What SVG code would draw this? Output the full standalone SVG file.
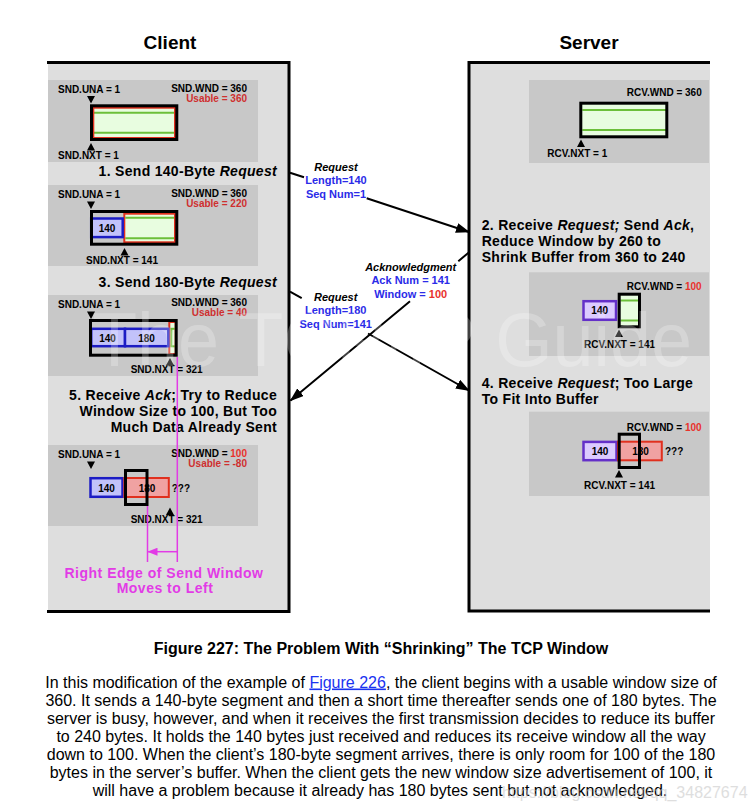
<svg xmlns="http://www.w3.org/2000/svg" width="755" height="812" viewBox="0 0 755 812">
<style>
text{font-family:"Liberation Sans",Arial,Helvetica,sans-serif;fill:#000}
.h{font-size:19px;font-weight:bold;text-anchor:middle}
.lb{font-size:10px;font-weight:bold}
.e{text-anchor:end}
.m{text-anchor:middle}
.st{font-size:14px;font-weight:bold;letter-spacing:0.3px}
.md{font-size:11px;font-weight:bold;text-anchor:middle}
.i{font-style:italic}
.blu{fill:#2b2be8}
.red{fill:#e8322c}
.ured{fill:#cf2f2f}
.mag{fill:#e23be6;font-size:14px;font-weight:bold;letter-spacing:0.5px;text-anchor:middle}
.panel{fill:#dedede}
.bd{stroke:#000;stroke-width:3;fill:none}
.gb{fill:#c8c8c8}
.win{fill:none;stroke:#000;stroke-width:3}
.lg{fill:#e8fde0}
.gl{stroke:#6cbf3a;stroke-width:2}
.rb{fill:none;stroke:#e0301e;stroke-width:2}
.bb{fill:#c2c2fa;stroke:#1c1cc4;stroke-width:2.5}
.pb{fill:#dccbff;stroke:#6430c8;stroke-width:2.5}
.rf{fill:#f0a2a2;stroke:#e0301e;stroke-width:2}
.conn{stroke:#000;stroke-width:2;fill:none}
.mline{stroke:#e23be6;stroke-width:1.5;fill:none}
.cap{font-size:16px;text-anchor:middle}
</style>
<defs>
<path id="dn" d="M-4,0 L4,0 L0,7.5 Z" fill="#000"/>
<path id="up" d="M-4,7.5 L4,7.5 L0,0 Z" fill="#000"/>
<marker id="ah" viewBox="0 0 14 10" refX="13" refY="5" markerWidth="14" markerHeight="10" markerUnits="userSpaceOnUse" orient="auto"><path d="M0,0 L14,5 L0,10 Z" fill="#000"/></marker>
<marker id="mh" viewBox="0 0 10 8" refX="9.5" refY="4" markerWidth="10" markerHeight="8" markerUnits="userSpaceOnUse" orient="auto"><path d="M0,0 L10,4 L0,8 Z" fill="#e23be6"/></marker>
</defs>
<rect width="755" height="812" fill="#fff"/>

<g id="client-panel">
<text class="h" x="170" y="49">Client</text>
<rect class="panel" x="48" y="62" width="241" height="549"/>
<path class="bd" d="M47,62.5 H289 V611.5 H47"/>
</g>

<g id="server-panel">
<text class="h" x="589" y="49">Server</text>
<rect class="panel" x="469" y="62" width="241" height="549"/>
<path class="bd" d="M710,62.5 H469 V611 H710"/>
</g>

<g id="client-state-1">
<rect class="gb" x="48" y="80" width="210" height="82"/>
<rect class="lg" x="92" y="106" width="84" height="33"/>
<line class="gl" x1="94" y1="112.7" x2="175" y2="112.7"/>
<line class="gl" x1="94" y1="132.7" x2="175" y2="132.7"/>
<rect class="rb" x="93.3" y="107.7" width="81.7" height="30.3"/>
<rect class="win" x="91.5" y="105.8" width="85.3" height="33.7"/>
<use href="#dn" x="91" y="96"/>
<use href="#up" x="91" y="143"/>
<text class="lb" x="58" y="93">SND.UNA = 1</text>
<text class="lb e" x="247" y="91.7">SND.WND = 360</text>
<text class="lb e ured" x="247" y="101.7">Usable = 360</text>
<text class="lb" x="58" y="159">SND.NXT = 1</text>
</g>

<g id="client-step-1">
<text class="st e" x="277" y="176">1. Send 140-Byte <tspan class="i">Request</tspan></text>
</g>

<g id="client-state-2">
<rect class="gb" x="48" y="185" width="210" height="81"/>
<rect class="lg" x="124.3" y="213.7" width="50.7" height="28.6"/>
<line class="gl" x1="125.3" y1="217.7" x2="174" y2="217.7"/>
<line class="gl" x1="125.3" y1="238.3" x2="174" y2="238.3"/>
<rect class="rb" x="124.3" y="213.7" width="50.7" height="28.6"/>
<rect class="bb" x="91.2" y="218.5" width="31.5" height="18.6"/>
<rect class="win" x="91.5" y="211.5" width="85.3" height="32.7"/>
<text class="lb m" x="107" y="231.5">140</text>
<use href="#dn" x="91" y="201.5"/>
<use href="#up" x="124.5" y="248"/>
<text class="lb" x="58" y="198">SND.UNA = 1</text>
<text class="lb e" x="247" y="196.7">SND.WND = 360</text>
<text class="lb e ured" x="247" y="206.7">Usable = 220</text>
<text class="lb" x="86" y="264">SND.NXT = 141</text>
</g>

<g id="client-step-3">
<text class="st e" x="277" y="287">3. Send 180-Byte <tspan class="i">Request</tspan></text>
</g>

<g id="client-state-3">
<rect class="gb" x="48" y="295" width="210" height="81"/>
<rect class="lg" x="169.3" y="322" width="6.4" height="32"/>
<line class="gl" x1="170.3" y1="328.8" x2="174.7" y2="328.8"/>
<line class="gl" x1="170.3" y1="346.3" x2="174.7" y2="346.3"/>
<line class="gl" x1="171.3" y1="328.8" x2="171.3" y2="346.3"/>
<rect class="rb" x="169.3" y="322" width="6.4" height="32"/>
<rect class="bb" x="91.2" y="328.8" width="33.8" height="17.4"/>
<rect class="bb" x="125" y="328.8" width="43.3" height="17.4"/>
<rect class="win" x="90.5" y="320.5" width="85.7" height="34.7"/>
<text class="lb m" x="107.5" y="341.5">140</text>
<text class="lb m" x="146.5" y="341.5">180</text>
<use href="#dn" x="91" y="311.5"/>
<use href="#up" x="170" y="358"/>
<text class="lb" x="58" y="308">SND.UNA = 1</text>
<text class="lb e" x="247" y="306">SND.WND = 360</text>
<text class="lb e ured" x="247" y="316">Usable = 40</text>
<text class="lb" x="130.7" y="373">SND.NXT = 321</text>
</g>

<g id="client-step-5">
<text class="st e" x="277" y="400">5. Receive <tspan class="i">Ack</tspan>; Try to Reduce</text>
<text class="st e" x="277" y="416">Window Size to 100, But Too</text>
<text class="st e" x="277" y="432">Much Data Already Sent</text>
</g>

<g id="client-state-5">
<rect class="gb" x="48" y="445" width="210" height="81"/>
<rect class="bb" x="90.5" y="478.2" width="32" height="18.6"/>
<rect class="rf" x="124.3" y="478" width="44.5" height="19"/>
<text class="lb m" x="106.5" y="491.5">140</text>
<text class="lb m" x="147" y="491.5">180</text>
<rect class="win" x="125.5" y="470.5" width="21.5" height="34"/>
<text class="lb" x="171.7" y="491.7">???</text>
<use href="#dn" x="91" y="461.5"/>
<use href="#up" x="170" y="507.5"/>
<text class="lb" x="58" y="458">SND.UNA = 1</text>
<text class="lb e" x="247" y="456.7">SND.WND = <tspan class="red">100</tspan></text>
<text class="lb e ured" x="247" y="466.7">Usable = -80</text>
<text class="lb" x="130.7" y="523.3">SND.NXT = 321</text>
</g>

<g id="server-state-1">
<rect class="gb" x="529" y="80" width="180" height="83"/>
<rect class="lg" x="580.8" y="103.2" width="86" height="33.6"/>
<line class="gl" x1="582.3" y1="110" x2="666.8" y2="110"/>
<line class="gl" x1="582.3" y1="130" x2="666.8" y2="130"/>
<rect class="win" x="580.8" y="103.2" width="86" height="33.6"/>
<use href="#up" x="581" y="139.5"/>
<text class="lb e" x="701.7" y="96">RCV.WND = 360</text>
<text class="lb" x="547.3" y="156.7">RCV.NXT = 1</text>
</g>

<g id="server-step-2">
<text class="st" x="481.7" y="230">2. Receive <tspan class="i">Request;</tspan> Send <tspan class="i">Ack</tspan>,</text>
<text class="st" x="481.7" y="245.7">Reduce Window by 260 to</text>
<text class="st" x="481.7" y="261.7">Shrink Buffer from 360 to 240</text>
</g>

<g id="server-state-2">
<rect class="gb" x="529" y="272.3" width="180" height="83.7"/>
<rect class="pb" x="583.5" y="301.2" width="32.5" height="18.6"/>
<text class="lb m" x="599.7" y="314">140</text>
<rect class="lg" x="619.2" y="294.2" width="20.3" height="32.6"/>
<line class="gl" x1="620.5" y1="300.5" x2="638.2" y2="300.5"/>
<line class="gl" x1="620.5" y1="320.5" x2="638.2" y2="320.5"/>
<rect class="win" x="619.2" y="294.2" width="20.3" height="32.6"/>
<use href="#up" x="619" y="329.5"/>
<text class="lb e" x="701.7" y="290">RCV.WND = <tspan class="red">100</tspan></text>
<text class="lb" x="584" y="348.3">RCV.NXT = 141</text>
</g>

<g id="server-step-4">
<text class="st" x="481.7" y="388.3">4. Receive <tspan class="i">Request</tspan>; Too Large</text>
<text class="st" x="481.7" y="404.3">To Fit Into Buffer</text>
</g>

<g id="server-state-4">
<rect class="gb" x="529" y="411.7" width="180" height="84.3"/>
<rect class="pb" x="583.5" y="441.9" width="33" height="18.3"/>
<rect class="rf" x="618" y="441.7" width="43.8" height="18.6"/>
<text class="lb m" x="600" y="455">140</text>
<text class="lb m" x="640.5" y="455">180</text>
<rect class="win" x="619.2" y="434.2" width="20.3" height="33.3"/>
<text class="lb" x="665" y="454.5">???</text>
<use href="#up" x="619" y="470"/>
<text class="lb e" x="701.7" y="430.7">RCV.WND = <tspan class="red">100</tspan></text>
<text class="lb" x="584" y="489.3">RCV.NXT = 141</text>
</g>

<g id="connectors">
<path class="conn" d="M290,172.7 L304,177.3 M366.7,198.2 L469,232" marker-end="url(#ah)"/>
<text class="md i" x="336" y="170.7">Request</text>
<text class="md blu" x="336" y="184.3">Length=140</text>
<text class="md blu" x="336" y="197.7">Seq Num=1</text>

<path class="conn" d="M290,291.7 L301.7,298.1 M368,333.5 L469,390.5" marker-end="url(#ah)"/>
<text class="md i" x="335.7" y="301">Request</text>
<text class="md blu" x="335.7" y="314.3">Length=180</text>
<text class="md blu" x="335.7" y="327.7">Seq Num=141</text>

<path class="conn" d="M468.5,252.7 L458.3,261.2 M410,301.3 L290.5,400.5" marker-end="url(#ah)"/>
<text class="md i" x="410.7" y="271">Acknowledgment</text>
<text class="md blu" x="410.7" y="284.3">Ack Num = 141</text>
<text class="md blu" x="410.7" y="298.3">Window = <tspan class="red">100</tspan></text>

<line class="mline" x1="177.3" y1="357" x2="177.3" y2="562"/>
<line class="mline" x1="147.5" y1="506" x2="147.5" y2="562"/>
<line class="mline" x1="177.3" y1="551.7" x2="148" y2="551.7" marker-end="url(#mh)"/>
<text class="mag" x="164" y="578.3">Right Edge of Send Window</text>
<text class="mag" x="165" y="593.3">Moves to Left</text>
</g>

<text x="92" y="366" font-size="76" textLength="600" lengthAdjust="spacingAndGlyphs" style="fill:#ffffff" opacity="0.25">The TCP/IP Guide</text>

<g id="caption">
<text class="cap" x="381" y="653.5" font-weight="bold">Figure 227: The Problem With “Shrinking” The TCP Window</text>
<text class="cap" x="381" y="687.5">In this modification of the example of <tspan style="fill:#1a33f0" text-decoration="underline">Figure 226</tspan>, the client begins with a usable window size of</text>
<text class="cap" x="381" y="705.5">360. It sends a 140-byte segment and then a short time thereafter sends one of 180 bytes. The</text>
<text class="cap" x="381" y="723.5">server is busy, however, and when it receives the first transmission decides to reduce its buffer</text>
<text class="cap" x="381" y="741.5">to 240 bytes. It holds the 140 bytes just received and reduces its receive window all the way</text>
<text class="cap" x="381" y="759.5">down to 100. When the client’s 180-byte segment arrives, there is only room for 100 of the 180</text>
<text class="cap" x="381" y="777.5">bytes in the server’s buffer. When the client gets the new window size advertisement of 100, it</text>
<text class="cap" x="380" y="795.5">will have a problem because it already has 180 bytes sent but not acknowledged.</text>
</g>
<text x="502" y="798" font-size="16" style="fill:#c4c4c4" opacity="0.55">https://blog.csdn.net/qq_34827674</text>
</svg>
